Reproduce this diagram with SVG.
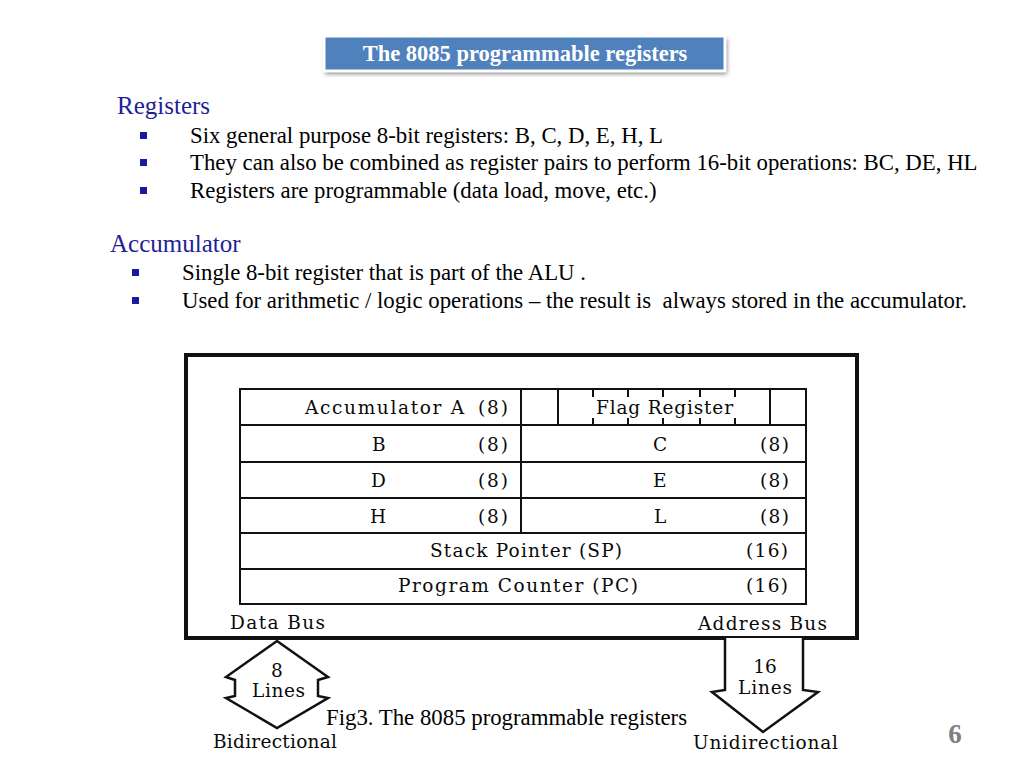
<svg xmlns="http://www.w3.org/2000/svg" width="1024" height="768" viewBox="0 0 1024 768">
<defs>
<filter id="sh" x="-10%" y="-50%" width="120%" height="200%">
<feGaussianBlur stdDeviation="2"/>
</filter>
<style>
.body{font-family:"Liberation Serif","Times New Roman",serif;font-size:22.8px;fill:#000}
.head{font-family:"Liberation Serif","Times New Roman",serif;font-size:25px;fill:#1F1F96}
.bul{fill:#1A1AA0}
.tt{font-family:"DejaVu Serif","Liberation Serif",serif;font-size:18.5px;fill:#0a0a0a}
.line{stroke:#111;stroke-width:2;fill:none}
.thick{stroke:#111;stroke-width:4;fill:none}
.arrow{stroke:#111;stroke-width:2.5;fill:#fff;stroke-linejoin:miter}
</style>
</defs>
<rect width="1024" height="768" fill="#fff"/>

<g id="title">
<rect x="325" y="39" width="402" height="35" fill="#888" filter="url(#sh)"/>
<rect x="324" y="36" width="401" height="35" fill="#4F81BD" stroke="#fff" stroke-width="3"/>
<text x="525" y="61" text-anchor="middle" font-family="Liberation Serif, Times New Roman, serif" font-weight="bold" font-size="22.5" fill="#fff">The 8085 programmable registers</text>
</g>

<g id="registers-text">
<text class="head" x="117" y="114">Registers</text>
<rect class="bul" x="140" y="132" width="7" height="7"/>
<rect class="bul" x="140" y="159" width="7" height="7"/>
<rect class="bul" x="140" y="187" width="7" height="7"/>
<text class="body" x="190" y="143">Six general purpose 8-bit registers: B, C, D, E, H, L</text>
<text class="body" x="190" y="170">They can also be combined as register pairs to perform 16-bit operations: BC, DE, HL</text>
<text class="body" x="190" y="198">Registers are programmable (data load, move, etc.)</text>
</g>

<g id="accumulator-text">
<text class="head" x="110" y="252">Accumulator</text>
<rect class="bul" x="132" y="269" width="7" height="7"/>
<rect class="bul" x="132" y="297" width="7" height="7"/>
<text class="body" x="182" y="280">Single 8-bit register that is part of the ALU .</text>
<text class="body" x="182" y="308" xml:space="preserve">Used for arithmetic / logic operations – the result is  always stored in the accumulator.</text>
</g>

<g id="cpu-box">
<rect class="thick" x="186" y="355" width="671" height="283"/>
<text class="tt" x="230" y="629" textLength="95" lengthAdjust="spacing">Data Bus</text>
<text class="tt" x="698" y="630" textLength="129" lengthAdjust="spacing">Address Bus</text>
</g>

<g id="register-table">
<rect class="line" x="240" y="389" width="566" height="215"/>
<path class="line" d="M240 425H806M240 462H806M240 498H806M240 533H806M240 569H806M521 389V533M558 389V425M770 389V425"/>
<path class="line" stroke-width="1.5" d="M593 389V397M628 389V397M663 389V397M700 389V397M735 389V397M593 418V425M628 418V425M663 418V425M700 418V425M735 418V425"/>
<text class="tt" x="305" y="414" textLength="159" lengthAdjust="spacing">Accumulator A</text>
<text class="tt" x="478" y="414" textLength="30" lengthAdjust="spacing">(8)</text>
<text class="tt" x="596" y="414" textLength="137" lengthAdjust="spacing">Flag Register</text>
<text class="tt" x="372" y="451">B</text>
<text class="tt" x="478" y="451" textLength="30" lengthAdjust="spacing">(8)</text>
<text class="tt" x="653" y="451">C</text>
<text class="tt" x="760" y="451" textLength="29" lengthAdjust="spacing">(8)</text>
<text class="tt" x="371" y="487">D</text>
<text class="tt" x="478" y="487" textLength="30" lengthAdjust="spacing">(8)</text>
<text class="tt" x="653" y="487">E</text>
<text class="tt" x="760" y="487" textLength="29" lengthAdjust="spacing">(8)</text>
<text class="tt" x="370" y="523">H</text>
<text class="tt" x="478" y="523" textLength="30" lengthAdjust="spacing">(8)</text>
<text class="tt" x="654" y="523">L</text>
<text class="tt" x="760" y="523" textLength="29" lengthAdjust="spacing">(8)</text>
<text class="tt" x="430" y="557" textLength="192" lengthAdjust="spacing">Stack Pointer (SP)</text>
<text class="tt" x="746" y="557" textLength="42" lengthAdjust="spacing">(16)</text>
<text class="tt" x="398" y="592" textLength="240" lengthAdjust="spacing">Program Counter (PC)</text>
<text class="tt" x="746" y="592" textLength="42" lengthAdjust="spacing">(16)</text>
</g>

<g id="connectors">
<path id="data-bus-arrow" class="arrow" d="M277 641L328 677L318 680V696L328 698L277 728L226 698L235 696V680L226 677Z"/>
<path id="address-bus-arrow" class="arrow" d="M725 638V690L712 692L763 732L818 692L803 690V638"/>
</g>

<g id="data-bus-label">
<text class="tt" x="277" y="677" text-anchor="middle">8</text>
<text class="tt" x="252" y="697" textLength="53" lengthAdjust="spacing">Lines</text>
<text class="tt" x="213" y="748" textLength="124" lengthAdjust="spacing">Bidirectional</text>
</g>

<g id="address-bus-label">
<text class="tt" x="765" y="673" text-anchor="middle">16</text>
<text class="tt" x="738" y="694" textLength="54" lengthAdjust="spacing">Lines</text>
<text class="tt" x="693" y="749" textLength="145" lengthAdjust="spacing">Unidirectional</text>
</g>

<text x="326" y="725" font-family="Liberation Serif, Times New Roman, serif" font-size="22.8" fill="#000">Fig3. The 8085 programmable registers</text>
<text x="955" y="743" text-anchor="middle" font-family="Liberation Serif, Times New Roman, serif" font-weight="bold" font-size="27" fill="#7F7F7F">6</text>
</svg>
